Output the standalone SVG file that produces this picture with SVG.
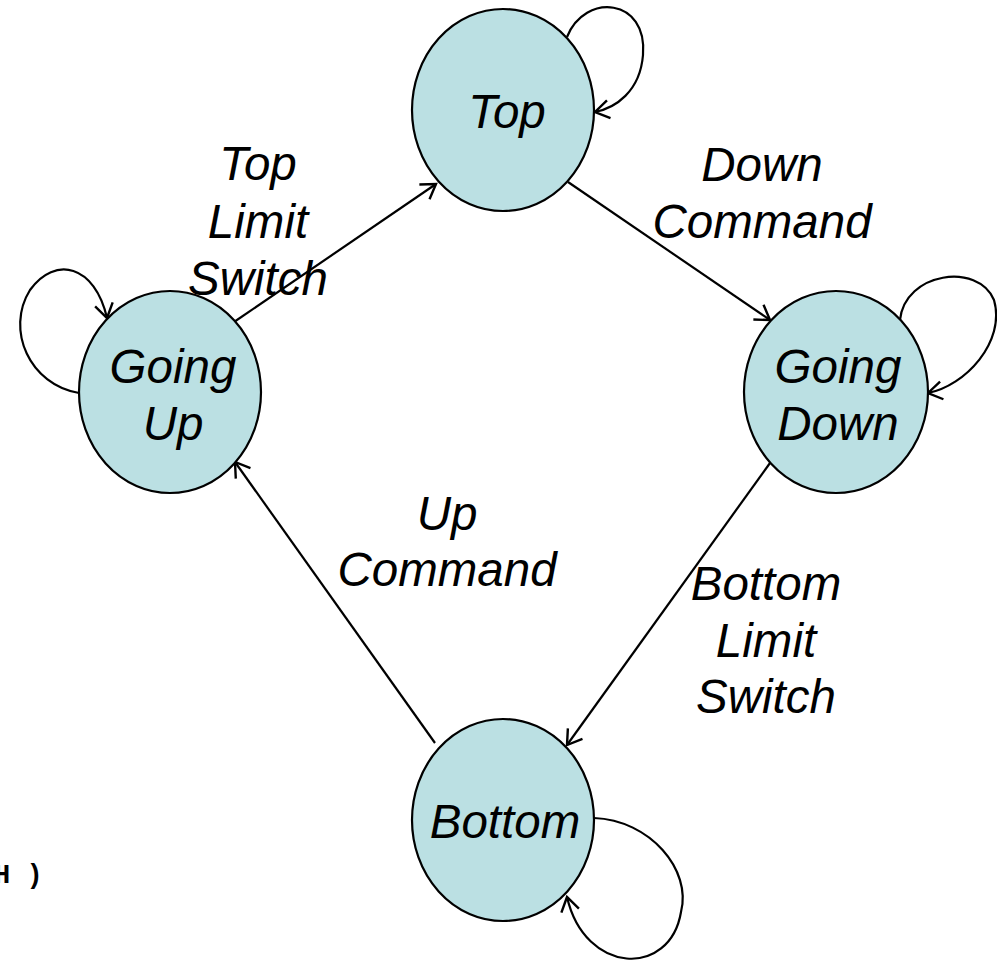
<svg xmlns="http://www.w3.org/2000/svg" width="997" height="966" viewBox="0 0 997 966">
  <style>
    .state { fill: #bbe0e3; stroke: #000; stroke-width: 2.2; }
    .lbl { font-family: "Liberation Sans", Arial, sans-serif; font-style: italic; font-size: 47.5px; fill: #000; text-anchor: middle; }
    .edge { fill: none; stroke: #000; stroke-width: 2.2; marker-end: url(#arrow); }
    .code { font-family: "Liberation Mono", "Courier New", monospace; font-weight: bold; font-size: 27px; fill: #000; }
  </style>
  <defs>
    <marker id="arrow" markerUnits="userSpaceOnUse" markerWidth="24" markerHeight="24" viewBox="0 0 24 24" refX="20" refY="12" orient="auto">
      <path d="M6,3 L20,12 L6,21" fill="none" stroke="#000" stroke-width="2.4"/>
    </marker>
  </defs>

  <!-- transitions -->
  <g id="connectors">
    <path class="edge" d="M234,322 L436,184"/>
    <path class="edge" d="M568,182 L770,320"/>
    <path class="edge" d="M770,463 L567,745"/>
    <path class="edge" d="M435,743 L235,462"/>
    <!-- self loops -->
    <path class="edge" d="M567,37 C585,-8 648,-2 643,55 C640,92 615,108 595,112"/>
    <path class="edge" d="M79,393 C30,385 5,330 30,290 C55,255 95,265 107,318"/>
    <path class="edge" d="M900,320 C905,272 978,262 994,300 C1006,342 965,386 928,393"/>
    <path class="edge" d="M594,818 C650,820 692,870 681,912 C670,978 585,975 567,897"/>
  </g>

  <g id="state-top">
    <ellipse class="state" cx="503" cy="110" rx="91" ry="101"/>
    <text class="lbl" x="507" y="128">Top</text>
  </g>
  <g id="state-going-up">
    <ellipse class="state" cx="170" cy="392" rx="91" ry="101"/>
    <text class="lbl" x="173" y="383">Going</text>
    <text class="lbl" x="173" y="440">Up</text>
  </g>
  <g id="state-going-down">
    <ellipse class="state" cx="836" cy="392" rx="92" ry="101"/>
    <text class="lbl" x="838" y="383">Going</text>
    <text class="lbl" x="838" y="440">Down</text>
  </g>
  <g id="state-bottom">
    <ellipse class="state" cx="503" cy="820" rx="91" ry="101"/>
    <text class="lbl" x="505" y="838">Bottom</text>
  </g>

  <!-- transition labels -->
  <g id="label-top-limit">
    <text class="lbl" x="258" y="180">Top</text>
    <text class="lbl" x="258" y="238">Limit</text>
    <text class="lbl" x="258" y="295">Switch</text>
  </g>
  <g id="label-down-command">
    <text class="lbl" x="762" y="181">Down</text>
    <text class="lbl" x="762" y="238">Command</text>
  </g>
  <g id="label-up-command">
    <text class="lbl" x="447" y="530">Up</text>
    <text class="lbl" x="447" y="586">Command</text>
  </g>
  <g id="label-bottom-limit">
    <text class="lbl" x="766" y="600">Bottom</text>
    <text class="lbl" x="766" y="657">Limit</text>
    <text class="lbl" x="766" y="713">Switch</text>
  </g>

  <text class="code" x="-6" y="883">H )</text>
</svg>
